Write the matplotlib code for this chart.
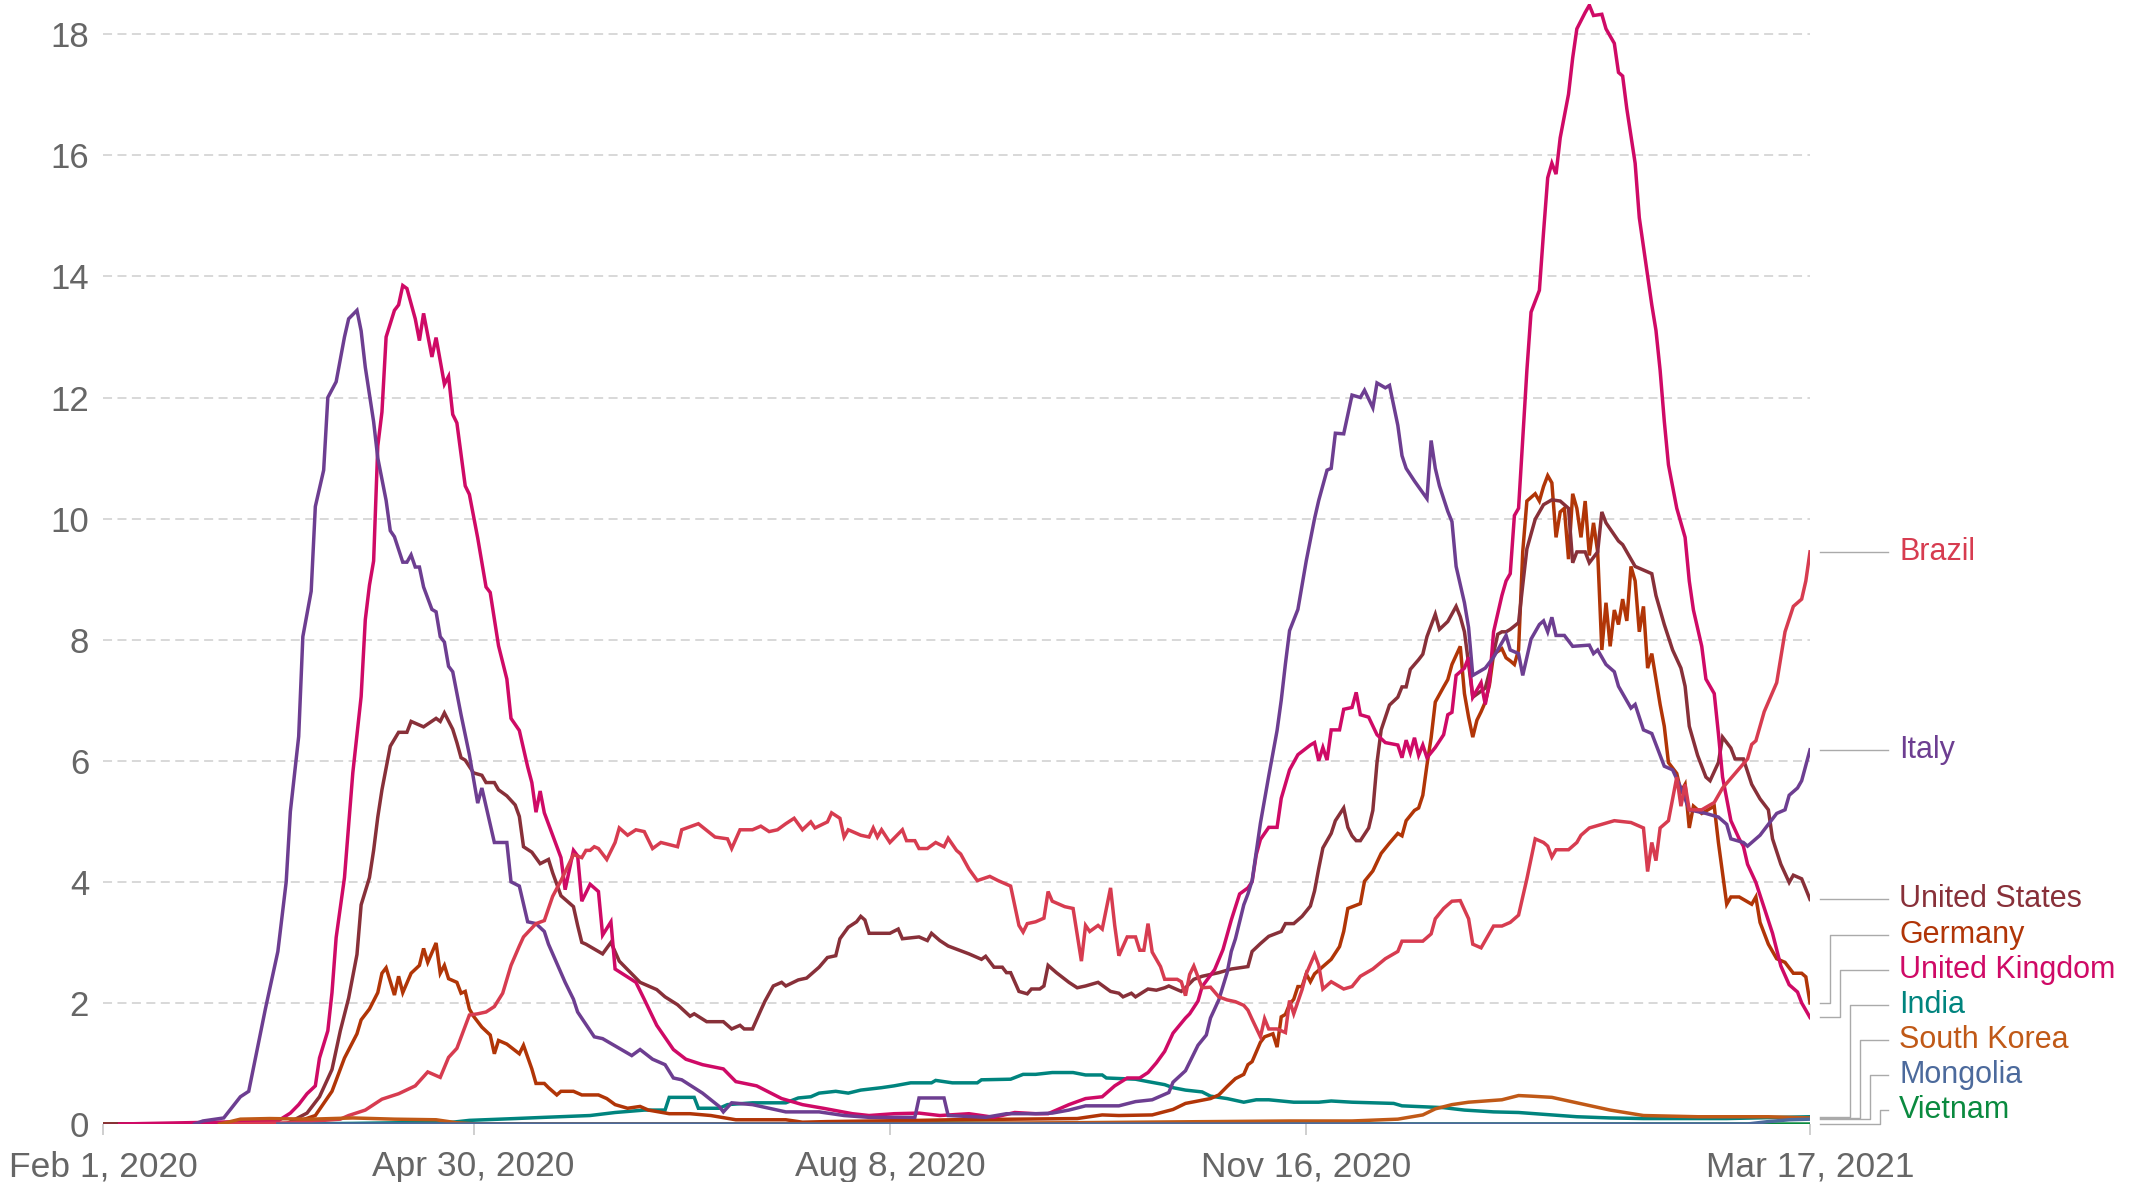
import numpy as np
import pandas as pd
import matplotlib
matplotlib.use("Agg")
import matplotlib.pyplot as plt
from matplotlib.transforms import blended_transform_factory

# -------------------------------------------------
# Data: days since Feb 1, 2020 -> daily deaths per million (7-day avg)
# values
# -------------------------------------------------
start = pd.Timestamp("2020-02-01")
end = pd.Timestamp("2021-03-17")

tick_dates = ["2020-02-01", "2020-04-30", "2020-08-08", "2020-11-16", "2021-03-17"]
tick_labels = ["Feb 1, 2020", "Apr 30, 2020", "Aug 8, 2020", "Nov 16, 2020", "Mar 17, 2021"]
y_ticks = [0, 2, 4, 6, 8, 10, 12, 14, 16, 18]

uk = [(4, 0), (42, 0.05), (45, 0.18), (47, 0.32), (49, 0.5), (51, 0.63), (52, 1.09), (54, 1.54),
      (55, 2.17), (56, 3.08), (58, 4.07), (60, 5.8), (62, 7.06), (63, 8.33), (64, 8.9), (65, 9.3),
      (66, 11.2), (67, 11.76), (68, 13.0), (70, 13.44), (71, 13.53), (72, 13.85), (73, 13.8),
      (75, 13.3), (76, 12.94), (77, 13.39), (78, 13.03), (79, 12.67), (80, 12.99), (82, 12.22),
      (83, 12.35), (84, 11.72), (85, 11.58), (87, 10.54), (88, 10.4), (90, 9.68), (92, 8.87),
      (93, 8.78), (95, 7.9), (97, 7.35), (98, 6.7), (100, 6.5), (102, 5.9), (103, 5.64),
      (104, 5.15), (105, 5.5), (106, 5.14), (108, 4.77), (110, 4.4), (111, 3.87), (113, 4.52),
      (114, 4.43), (115, 3.68), (117, 3.96), (119, 3.84), (120, 3.12), (122, 3.34), (123, 2.56),
      (128, 2.34), (130, 2.06), (133, 1.63), (137, 1.23), (140, 1.07), (144, 0.98), (149, 0.91),
      (152, 0.7), (157, 0.63), (163, 0.42), (168, 0.32), (173, 0.26), (180, 0.17), (184, 0.14),
      (190, 0.17), (196, 0.18), (201, 0.14), (208, 0.17), (214, 0.11), (219, 0.19), (224, 0.17),
      (227, 0.17), (229, 0.23), (232, 0.32), (236, 0.42), (240, 0.45), (243, 0.63), (246, 0.76),
      (249, 0.76), (251, 0.85), (253, 1.01), (255, 1.2), (257, 1.5), (260, 1.75), (261, 1.82),
      (263, 2.03), (264, 2.27), (267, 2.55), (269, 2.88), (271, 3.37), (273, 3.8), (275, 3.9),
      (276, 4.0), (277, 4.45), (278, 4.7), (280, 4.9), (282, 4.9), (283, 5.38), (285, 5.85),
      (287, 6.1), (290, 6.26), (291, 6.3), (292, 6.0), (293, 6.22), (294, 6.01), (295, 6.51),
      (297, 6.51), (298, 6.85), (300, 6.88), (301, 7.13), (302, 6.76), (304, 6.72), (306, 6.43),
      (308, 6.3), (311, 6.26), (312, 6.05), (313, 6.34), (314, 6.13), (315, 6.38), (316, 6.09),
      (317, 6.26), (318, 6.05), (320, 6.22), (322, 6.43), (323, 6.76), (324, 6.8), (325, 7.41),
      (327, 7.53), (328, 7.71), (329, 7.05), (330, 7.17), (331, 7.29), (332, 6.93), (333, 7.29),
      (334, 8.13), (336, 8.73), (337, 8.97), (338, 9.09), (339, 10.05), (340, 10.17), (341, 11.3),
      (342, 12.45), (343, 13.41), (345, 13.77), (346, 14.73), (347, 15.63), (348, 15.87),
      (349, 15.69), (350, 16.29), (351, 16.65), (352, 17.01), (353, 17.61), (354, 18.09),
      (356, 18.36), (357, 18.48), (358, 18.31), (360, 18.33), (361, 18.09), (363, 17.85),
      (364, 17.37), (365, 17.31), (366, 16.77), (368, 15.87), (369, 14.97), (371, 14.01),
      (372, 13.53), (373, 13.11), (374, 12.45), (375, 11.61), (376, 10.89), (378, 10.17),
      (380, 9.69), (381, 8.97), (382, 8.49), (384, 7.89), (385, 7.35), (387, 7.11), (388, 6.45),
      (389, 5.73), (391, 5.01), (393, 4.71), (394, 4.59), (395, 4.29), (397, 3.99), (399, 3.57),
      (401, 3.15), (403, 2.61), (405, 2.3), (407, 2.18), (408, 2.0), (410, 1.76)]

italy = [(22, 0), (24, 0.05), (29, 0.1), (33, 0.45), (35, 0.54), (39, 1.9), (42, 2.85), (44, 4.0),
         (45, 5.16), (47, 6.4), (48, 8.05), (50, 8.8), (51, 10.2), (53, 10.8), (54, 12.0),
         (56, 12.26), (58, 13.0), (59, 13.3), (61, 13.44), (62, 13.1), (63, 12.5), (65, 11.6),
         (66, 11.0), (68, 10.3), (69, 9.8), (70, 9.7), (72, 9.28), (73, 9.28), (74, 9.4), (75, 9.2),
         (76, 9.2), (77, 8.87), (79, 8.5), (80, 8.46), (81, 8.05), (82, 7.96), (83, 7.56),
         (84, 7.47), (86, 6.76), (88, 6.1), (89, 5.7), (90, 5.3), (91, 5.55), (94, 4.65),
         (97, 4.65), (98, 4.0), (100, 3.93), (102, 3.34), (104, 3.31), (106, 3.18), (107, 2.97),
         (111, 2.34), (113, 2.06), (114, 1.85), (118, 1.44), (120, 1.41), (123, 1.29), (127, 1.13),
         (129, 1.23), (132, 1.07), (135, 0.98), (137, 0.76), (139, 0.73), (144, 0.51), (148, 0.29),
         (149, 0.2), (151, 0.35), (156, 0.32), (160, 0.26), (164, 0.2), (172, 0.2), (178, 0.14),
         (184, 0.11), (195, 0.11), (196, 0.43), (202, 0.43), (203, 0.14), (212, 0.11), (217, 0.17),
         (224, 0.17), (228, 0.18), (232, 0.23), (236, 0.3), (244, 0.3), (248, 0.37), (252, 0.4),
         (256, 0.52), (257, 0.69), (260, 0.88), (263, 1.3), (265, 1.47), (266, 1.75), (268, 2.05),
         (270, 2.5), (271, 2.85), (272, 3.06), (274, 3.62), (275, 3.8), (276, 4.02), (277, 4.5),
         (278, 4.97), (280, 5.75), (282, 6.5), (283, 7.0), (284, 7.6), (285, 8.15), (287, 8.5),
         (289, 9.3), (291, 10.0), (292, 10.3), (294, 10.8), (295, 10.83), (296, 11.41),
         (298, 11.4), (300, 12.04), (302, 12.0), (303, 12.12), (305, 11.83), (306, 12.24),
         (308, 12.16), (309, 12.2), (311, 11.54), (312, 11.04), (313, 10.83), (315, 10.62),
         (318, 10.33), (319, 11.29), (320, 10.83), (321, 10.54), (323, 10.12), (324, 9.95),
         (325, 9.21), (327, 8.61), (328, 8.2), (329, 7.41), (332, 7.53), (334, 7.71), (337, 8.07),
         (338, 7.83), (340, 7.77), (341, 7.41), (343, 8.01), (345, 8.25), (346, 8.31), (347, 8.13),
         (348, 8.37), (349, 8.07), (351, 8.07), (353, 7.89), (357, 7.91), (358, 7.77), (359, 7.83),
         (361, 7.59), (363, 7.47), (364, 7.23), (367, 6.87), (368, 6.93), (370, 6.51), (372, 6.45),
         (373, 6.27), (375, 5.91), (377, 5.85), (379, 5.55), (381, 5.19), (385, 5.13), (388, 5.07),
         (390, 4.95), (391, 4.71), (394, 4.65), (395, 4.59), (398, 4.77), (400, 4.95), (402, 5.13),
         (404, 5.19), (405, 5.43), (407, 5.55), (408, 5.67), (410, 6.18)]

united_states = [(0, 0), (44, 0), (49, 0.18), (52, 0.45), (55, 0.9), (57, 1.54), (59, 2.08),
                 (61, 2.8), (62, 3.62), (64, 4.07), (65, 4.52), (66, 5.07), (67, 5.52), (68, 5.88),
                 (69, 6.24), (71, 6.47), (73, 6.47), (74, 6.65), (77, 6.56), (80, 6.7), (81, 6.65),
                 (82, 6.79), (84, 6.52), (85, 6.3), (86, 6.05), (87, 6.01), (89, 5.8), (91, 5.76),
                 (92, 5.64), (94, 5.64), (95, 5.52), (97, 5.42), (99, 5.27), (100, 5.08), (101, 4.58),
                 (103, 4.49), (105, 4.3), (107, 4.37), (108, 4.15), (110, 3.77), (113, 3.59),
                 (114, 3.28), (115, 3.0), (116, 2.97), (120, 2.81), (122, 3.0), (124, 2.69),
                 (129, 2.34), (133, 2.22), (135, 2.1), (138, 1.97), (141, 1.78), (142, 1.82),
                 (145, 1.69), (149, 1.69), (151, 1.57), (153, 1.63), (154, 1.57), (156, 1.57),
                 (158, 1.88), (159, 2.03), (161, 2.28), (163, 2.34), (164, 2.28), (167, 2.38),
                 (169, 2.41), (172, 2.59), (174, 2.75), (176, 2.78), (177, 3.06), (179, 3.25),
                 (181, 3.34), (182, 3.43), (183, 3.37), (184, 3.15), (189, 3.15), (191, 3.22),
                 (192, 3.06), (196, 3.09), (198, 3.03), (199, 3.15), (201, 3.03), (203, 2.94),
                 (208, 2.81), (211, 2.72), (212, 2.77), (214, 2.59), (216, 2.59), (217, 2.5),
                 (218, 2.5), (220, 2.19), (222, 2.15), (223, 2.23), (225, 2.23), (226, 2.28),
                 (227, 2.62), (229, 2.5), (232, 2.34), (234, 2.25), (236, 2.28), (239, 2.34),
                 (242, 2.19), (244, 2.16), (245, 2.1), (247, 2.16), (248, 2.1), (251, 2.23),
                 (253, 2.21), (255, 2.25), (256, 2.28), (259, 2.19), (260, 2.25), (262, 2.39),
                 (264, 2.44), (268, 2.5), (271, 2.56), (275, 2.6), (276, 2.85), (278, 2.98),
                 (280, 3.1), (283, 3.18), (284, 3.31), (286, 3.31), (288, 3.43), (290, 3.6),
                 (291, 3.85), (292, 4.22), (293, 4.56), (295, 4.8), (296, 5.01), (298, 5.22),
                 (299, 4.9), (300, 4.76), (301, 4.68), (302, 4.68), (304, 4.89), (305, 5.18),
                 (306, 5.97), (307, 6.51), (309, 6.92), (311, 7.05), (312, 7.22), (313, 7.22),
                 (314, 7.51), (316, 7.67), (317, 7.76), (318, 8.05), (320, 8.42), (321, 8.17),
                 (323, 8.3), (325, 8.55), (326, 8.38), (327, 8.13), (328, 7.6), (329, 7.05),
                 (332, 7.2), (333, 7.46), (335, 8.09), (336, 8.13), (337, 8.13), (338, 8.17),
                 (340, 8.28), (341, 8.9), (342, 9.5), (344, 9.99), (346, 10.23), (348, 10.31),
                 (350, 10.29), (352, 10.17), (353, 9.27), (354, 9.45), (356, 9.45), (357, 9.27),
                 (359, 9.45), (360, 10.11), (361, 9.93), (364, 9.63), (365, 9.57), (367, 9.33),
                 (368, 9.21), (372, 9.09), (373, 8.73), (375, 8.25), (377, 7.83), (379, 7.53),
                 (380, 7.23), (381, 6.57), (383, 6.09), (385, 5.73), (386, 5.67), (388, 5.97),
                 (389, 6.39), (391, 6.21), (392, 6.03), (394, 6.03), (396, 5.61), (398, 5.37),
                 (400, 5.19), (401, 4.71), (403, 4.29), (405, 3.99), (406, 4.11), (408, 4.05),
                 (410, 3.71)]

germany = [(0, 0), (45, 0), (51, 0.14), (55, 0.54), (58, 1.09), (61, 1.49), (62, 1.72), (64, 1.9),
           (66, 2.17), (67, 2.49), (68, 2.58), (70, 2.13), (71, 2.44), (72, 2.17), (74, 2.49),
           (76, 2.62), (77, 2.9), (78, 2.67), (80, 2.99), (81, 2.49), (82, 2.62), (83, 2.4),
           (85, 2.34), (86, 2.16), (87, 2.19), (88, 1.9), (89, 1.78), (91, 1.6), (93, 1.47),
           (94, 1.16), (95, 1.38), (97, 1.32), (100, 1.16), (101, 1.3), (103, 0.91), (104, 0.67),
           (106, 0.67), (107, 0.6), (109, 0.48), (110, 0.54), (113, 0.54), (115, 0.48), (119, 0.48),
           (121, 0.42), (123, 0.32), (126, 0.26), (129, 0.29), (131, 0.23), (136, 0.17), (141, 0.17),
           (146, 0.14), (152, 0.07), (164, 0.07), (168, 0.03), (174, 0.04), (196, 0.06), (204, 0.07),
           (234, 0.09), (240, 0.15), (244, 0.14), (252, 0.15), (257, 0.24), (260, 0.34), (263, 0.38),
           (266, 0.42), (268, 0.48), (270, 0.62), (272, 0.75), (274, 0.82), (275, 0.98), (276, 1.03),
           (278, 1.35), (279, 1.44), (281, 1.49), (282, 1.27), (283, 1.77), (284, 1.81), (285, 1.98),
           (286, 2.06), (287, 2.27), (288, 2.27), (289, 2.48), (290, 2.35), (291, 2.48), (293, 2.6),
           (295, 2.72), (297, 2.93), (298, 3.18), (299, 3.56), (302, 3.64), (303, 4.01), (305, 4.18),
           (307, 4.47), (309, 4.64), (311, 4.8), (312, 4.76), (313, 5.01), (315, 5.18), (316, 5.22),
           (317, 5.43), (318, 5.93), (319, 6.38), (320, 6.97), (322, 7.22), (323, 7.34), (324, 7.59),
           (326, 7.89), (327, 7.11), (328, 6.72), (329, 6.39), (330, 6.67), (331, 6.81), (332, 6.97),
           (333, 7.25), (334, 7.76), (336, 7.85), (337, 7.7), (338, 7.65), (339, 7.59), (340, 7.83),
           (341, 9.45), (342, 10.29), (344, 10.41), (345, 10.29), (346, 10.53), (347, 10.71),
           (348, 10.59), (349, 9.69), (350, 10.11), (351, 10.17), (352, 9.33), (353, 10.41),
           (354, 10.17), (355, 9.69), (356, 10.29), (357, 9.39), (358, 9.93), (359, 9.45),
           (360, 7.83), (361, 8.61), (362, 7.89), (363, 8.49), (364, 8.25), (365, 8.67), (366, 8.31),
           (367, 9.21), (368, 8.97), (369, 8.13), (370, 8.55), (371, 7.53), (372, 7.77), (374, 6.93),
           (375, 6.57), (376, 5.97), (378, 5.79), (379, 5.49), (380, 5.61), (381, 4.89), (382, 5.25),
           (384, 5.13), (387, 5.25), (388, 4.65), (390, 3.63), (391, 3.75), (393, 3.75), (396, 3.63),
           (397, 3.75), (398, 3.33), (400, 2.97), (402, 2.73), (404, 2.67), (406, 2.49), (408, 2.49),
           (409, 2.43), (410, 2.0)]

brazil = [(30, 0), (45, 0.02), (57, 0.08), (59, 0.14), (63, 0.23), (67, 0.41), (71, 0.5),
          (75, 0.63), (78, 0.86), (81, 0.77), (83, 1.1), (85, 1.25), (88, 1.8), (90, 1.82),
          (92, 1.85), (94, 1.94), (96, 2.16), (98, 2.62), (100, 2.94), (101, 3.09), (104, 3.31),
          (106, 3.36), (108, 3.76), (110, 4.02), (113, 4.45), (115, 4.4), (116, 4.52), (117, 4.52),
          (118, 4.58), (119, 4.55), (121, 4.37), (123, 4.65), (124, 4.89), (126, 4.77), (128, 4.86),
          (130, 4.83), (132, 4.55), (134, 4.65), (138, 4.58), (139, 4.86), (143, 4.96), (147, 4.74),
          (150, 4.71), (151, 4.55), (153, 4.86), (156, 4.86), (158, 4.92), (160, 4.83), (162, 4.86),
          (164, 4.96), (166, 5.05), (168, 4.86), (170, 4.99), (171, 4.89), (174, 4.99), (175, 5.14),
          (177, 5.05), (178, 4.74), (179, 4.86), (182, 4.77), (184, 4.74), (185, 4.89), (186, 4.74),
          (187, 4.86), (189, 4.65), (192, 4.86), (193, 4.68), (195, 4.68), (196, 4.55), (198, 4.55),
          (200, 4.65), (202, 4.58), (203, 4.72), (205, 4.52), (206, 4.46), (208, 4.21), (210, 4.02),
          (213, 4.09), (215, 4.02), (218, 3.93), (220, 3.28), (221, 3.17), (222, 3.31), (224, 3.34),
          (226, 3.4), (227, 3.84), (228, 3.68), (231, 3.59), (233, 3.56), (235, 2.69), (236, 3.28),
          (237, 3.18), (239, 3.28), (240, 3.22), (242, 3.9), (243, 3.28), (244, 2.78), (246, 3.09),
          (248, 3.09), (249, 2.87), (250, 2.87), (251, 3.31), (252, 2.84), (254, 2.6), (255, 2.39),
          (258, 2.39), (259, 2.35), (260, 2.12), (261, 2.47), (262, 2.61), (264, 2.25), (266, 2.26),
          (268, 2.1), (270, 2.05), (272, 2.02), (274, 1.96), (275, 1.88), (276, 1.73), (278, 1.44),
          (279, 1.74), (280, 1.57), (282, 1.57), (284, 1.51), (285, 2.04), (286, 1.82), (288, 2.22),
          (289, 2.48), (291, 2.8), (292, 2.62), (293, 2.23), (295, 2.35), (298, 2.23), (300, 2.27),
          (302, 2.44), (305, 2.56), (308, 2.73), (311, 2.85), (312, 3.02), (317, 3.02), (319, 3.14),
          (320, 3.39), (322, 3.56), (324, 3.68), (326, 3.69), (328, 3.39), (329, 2.97), (331, 2.91),
          (334, 3.27), (336, 3.27), (338, 3.33), (340, 3.45), (342, 4.05), (344, 4.71), (346, 4.65),
          (347, 4.59), (348, 4.41), (349, 4.53), (352, 4.53), (354, 4.65), (355, 4.77), (357, 4.89),
          (360, 4.95), (363, 5.01), (367, 4.98), (370, 4.89), (371, 4.17), (372, 4.65), (373, 4.35),
          (374, 4.89), (376, 5.01), (378, 5.73), (379, 5.25), (380, 5.61), (381, 5.19), (384, 5.19),
          (387, 5.31), (389, 5.55), (392, 5.79), (395, 6.03), (396, 6.27), (397, 6.33), (399, 6.81),
          (402, 7.29), (403, 7.71), (404, 8.13), (406, 8.55), (408, 8.67), (409, 8.97), (410, 9.45)]

india = [(2, 0), (40, 0), (60, 0.01), (70, 0.02), (84, 0.03), (88, 0.06), (99, 0.09), (106, 0.11),
         (117, 0.14), (123, 0.19), (130, 0.23), (135, 0.23), (136, 0.44), (142, 0.44), (143, 0.26),
         (148, 0.26), (150, 0.32), (156, 0.35), (164, 0.35), (167, 0.43), (170, 0.45), (172, 0.51),
         (176, 0.54), (179, 0.51), (182, 0.56), (187, 0.6), (190, 0.63), (194, 0.68), (199, 0.68),
         (200, 0.72), (204, 0.68), (210, 0.68), (211, 0.73), (218, 0.74), (221, 0.82), (224, 0.82),
         (228, 0.85), (233, 0.85), (236, 0.81), (240, 0.81), (241, 0.76), (248, 0.74), (251, 0.7),
         (255, 0.65), (257, 0.6), (260, 0.56), (264, 0.53), (266, 0.46), (270, 0.42), (274, 0.36),
         (277, 0.4), (280, 0.4), (283, 0.38), (286, 0.36), (292, 0.36), (295, 0.38), (300, 0.36),
         (310, 0.34), (312, 0.3), (322, 0.27), (327, 0.23), (334, 0.2), (340, 0.19), (342, 0.18),
         (348, 0.15), (354, 0.12), (362, 0.1), (370, 0.09), (390, 0.09), (410, 0.12)]

south_korea = [(28, 0), (30, 0.03), (33, 0.08), (40, 0.09), (50, 0.08), (60, 0.1), (70, 0.08),
               (80, 0.07), (85, 0.02), (90, 0), (150, 0), (200, 0.01), (230, 0.02), (285, 0.05),
               (300, 0.05), (311, 0.08), (317, 0.15), (320, 0.25), (324, 0.32), (328, 0.36),
               (336, 0.4), (340, 0.47), (343, 0.46), (348, 0.44), (354, 0.35), (362, 0.23),
               (370, 0.14), (383, 0.12), (400, 0.12), (410, 0.1)]

mongolia = [(42, 0), (395, 0), (400, 0.04), (405, 0.07), (410, 0.08)]

vietnam = [(0, 0), (178, 0), (185, 0.01), (200, 0.02), (215, 0.01), (225, 0), (410, 0)]

# drawing order, bottom to top
series = [
    ("Vietnam", vietnam, "#0a8a3f"),
    ("India", india, "#00847e"),
    ("Germany", germany, "#b13507"),
    ("United States", united_states, "#883039"),
    ("United Kingdom", uk, "#cf0a66"),
    ("Italy", italy, "#6d3e91"),
    ("Brazil", brazil, "#d73c50"),
    ("South Korea", south_korea, "#c05917"),
    ("Mongolia", mongolia, "#4c6a9c"),
]

# -------------------------------------------------
# Figure
# -------------------------------------------------
W, H = 2146, 1182
plt.rcParams["font.family"] = ["Liberation Sans", "DejaVu Sans"]
fig = plt.figure(figsize=(W / 100, H / 100), dpi=100)
ax = fig.add_axes([103 / W, 58 / H, 1707 / W, 1120 / H])

n_days = (end - start).days
for name, pts, color in series:
    d = np.array([p[0] for p in pts], dtype=float)
    v = np.array([p[1] for p in pts], dtype=float)
    ax.plot(d, v, color=color, lw=2.5, solid_joinstyle="miter", zorder=3)

ax.set_xlim(0, n_days)
ax.set_ylim(0, 18.5)

for y in y_ticks[1:]:
    ax.axhline(y, color="#d6d6d6", lw=1.3, ls=(0, (5, 3)), zorder=1)

for s in ax.spines.values():
    s.set_visible(False)

ax.set_yticks(y_ticks)
ax.set_yticklabels([str(t) for t in y_ticks])
ax.tick_params(axis="y", length=0, pad=10, labelsize=25, labelcolor="#666666")

tick_pos = [(pd.Timestamp(t) - start).days for t in tick_dates]
ax.set_xticks(tick_pos)
ax.set_xticklabels(tick_labels)
ax.tick_params(axis="x", length=8, width=1.3, color="#cccccc", pad=11,
               labelsize=25.5, labelcolor="#666666")

# -------------------------------------------------
# End labels with connector lines
# -------------------------------------------------
label_order = ["Brazil", "Italy", "United States", "Germany", "United Kingdom",
               "India", "South Korea", "Mongolia", "Vietnam"]
last = {name: pts[-1][1] for name, pts, _ in series}
last["South Korea"] = 0.10
last["Mongolia"] = 0.08
last["Vietnam"] = 0.0
colors = {name: c for name, _, c in series}

gap = 0.58
label_y = {}
prev = None
for name in reversed(label_order):
    y = last[name] if prev is None else max(last[name], prev + gap)
    y = max(y, 0.23)
    label_y[name] = y
    prev = y

ax_w = 1707.0
tr = blended_transform_factory(ax.transAxes, ax.transData)
def fx(px):
    return 1 + px / ax_w

k = 0
for name in label_order:
    y0, y1 = last[name], label_y[name]
    if abs(y1 - y0) < 1e-6:
        xs, ys = [fx(10), fx(78)], [y0, y0]
    else:
        xe = fx(20 + 10 * k)
        xs, ys = [fx(10), xe, xe, fx(78)], [y0, y0, y1, y1]
        k += 1
    ax.plot(xs, ys, color="#aaaaaa", lw=1.0, transform=tr, clip_on=False, zorder=2)
    ax.text(fx(89), y1, name, color=colors[name], fontsize=22, va="center",
            ha="left", transform=tr, clip_on=False)

fig.savefig("out.png", dpi=100)
